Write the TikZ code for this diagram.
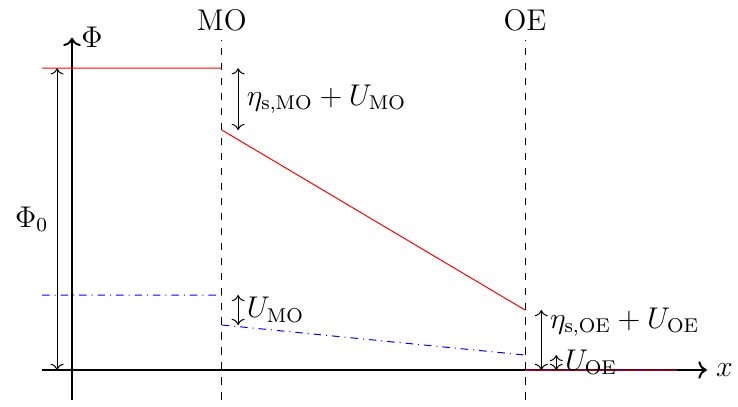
\documentclass[tikz,border=0pt]{standalone}
\usetikzlibrary{arrows.meta,positioning,calc}
\begin{document}
\begin{tikzpicture}[every node/.style={font=\large},dim/.style={<->},pot/.style={red},conc/.style={blue,dash dot}]
\useasboundingbox (-1.014,-0.507) rectangle (9.380,5.211);
% axes
\coordinate (xs) at (-0.42,0); \coordinate (xe) at (8.94,0);
\coordinate (ys) at (0,-0.42); \coordinate (ye) at (0,4.68);
\draw[thick,->] (xs) -- (xe) node[right] (xl) {$x$};
\draw[thick,->] (ys) -- (ye) node[right] (yl) {$\Phi$};
% interfaces
\foreach \n/\x in {MO/2.11,OE/6.38}{
 \coordinate (\n b) at (\x,-0.42); \coordinate (\n t) at (\x,4.65);
 \draw[dashed] (\n b) -- (\n t) node[above] (\n l) {\n};}
% potential profiles
\coordinate (r1) at (-0.42,4.25); \coordinate (r2) at (2.11,4.25);
\coordinate (r3) at (2.11,3.38); \coordinate (r4) at (6.38,0.845);
\coordinate (r5) at (6.38,0); \coordinate (r6) at (8.52,0);
\coordinate (b1) at (-0.42,1.056); \coordinate (b2) at (2.11,1.056);
\coordinate (b3) at (2.11,0.634); \coordinate (b4) at (6.38,0.211);
\coordinate (b5) at (6.38,0); \coordinate (b6) at (8.52,0);
\draw[conc] (b1) -- (b2) (b3) -- (b4) (b5) -- (b6);
\draw[pot] (r1) -- (r2) (r3) -- (r4) (r5) -- (r6);
% jumps
\draw[dim] ($(r1)+(0.21,0)$) -- ($(r1)+(0.21,-4.25)$) node[midway,left] (p0) {$\Phi_0$};
\draw[dim] ($(r2)+(0.23,0)$) -- ($(r3)+(0.23,0)$) node[midway,right] (etamo) {$\eta_{\mathrm{s,MO}}+U_{\mathrm{MO}}$};
\draw[dim] ($(b2)+(0.23,0)$) -- ($(b3)+(0.23,0)$) node[midway,right] (umo) {$U_{\mathrm{MO}}$};
\draw[dim] ($(r5)+(0.23,0)$) -- ($(r4)+(0.23,0)$) node[pos=0.8,right] (etaoe) {$\eta_{\mathrm{s,OE}}+U_{\mathrm{OE}}$};
\draw[dim] ($(b5)+(0.44,0)$) -- ($(b4)+(0.44,0)$) node[midway,right] (uoe) {$U_{\mathrm{OE}}$};
\end{tikzpicture}
\end{document}
